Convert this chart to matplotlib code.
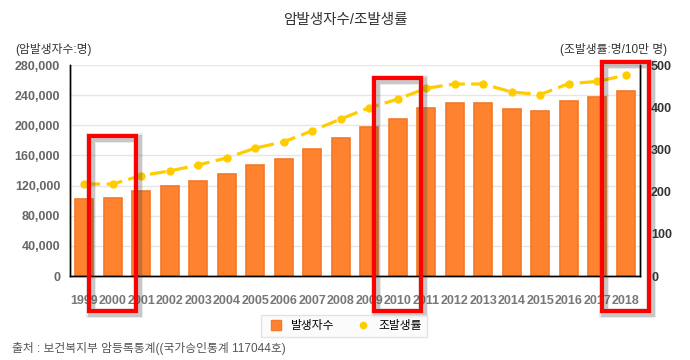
import matplotlib.pyplot as plt
from matplotlib.patches import Rectangle
from matplotlib.lines import Line2D
import matplotlib.transforms as mtransforms
import numpy as np

# data
years = [str(y) for y in range(1999, 2019)]
cases = [101700, 103500, 112300, 119000, 125600, 135000, 146900, 154800, 168100, 182700,
         197300, 208900, 223600, 230200, 230200, 222200, 219600, 232900, 236900, 244900]
rates = [218, 218, 238, 249, 263, 280, 303, 318, 344, 372,
         399, 419, 445, 455, 455, 436, 430, 456, 461, 476]
highlight_years = ["2000", "2010", "2018"]
highlight_tops = [0.664, 0.938, 1.014]

plt.rcParams['font.family'] = ['Liberation Sans', 'Noto Sans CJK KR']

fig = plt.figure(figsize=(6.9, 3.6), dpi=100)
ax = fig.add_axes([0.1014, 0.2333, 0.8261, 0.5861])
ax2 = ax.twinx()

x = np.arange(len(years))
ax.bar(x, cases, width=0.64, color='#FF832F', edgecolor='#F2782A', linewidth=1.2, zorder=2)
ax.set_xlim(-0.5, len(years) - 0.5)
ax.set_ylim(0, 280000)
ax.set_yticks(range(0, 280001, 40000))
ax.set_yticklabels([f"{v:,}" for v in range(0, 280001, 40000)])
ax.grid(axis='y', color='#E6E6E6', linewidth=1, zorder=0)
ax.set_axisbelow(True)
ax.set_xticks(x)
ax.set_xticklabels(years)

ax2.plot(x, rates, color='#FFCC00', linewidth=2.3, dashes=(5, 2),
         marker='o', markersize=6, markeredgewidth=0, zorder=3)
ax2.set_ylim(0, 500)
ax2.set_yticks(range(0, 501, 100))

for a in (ax, ax2):
    a.spines['top'].set_visible(False)
    for s in ('left', 'right', 'bottom'):
        a.spines[s].set_color('black')
        a.spines[s].set_linewidth(1)
    a.tick_params(length=0)

ax.tick_params(axis='y', labelcolor='#666666', labelsize=9, pad=7)
ax.tick_params(axis='x', labelcolor='#777777', labelsize=9, pad=14)
ax2.tick_params(axis='y', labelcolor='#333333', labelsize=9, pad=8)
for lab in ax.get_xticklabels() + ax.get_yticklabels() + ax2.get_yticklabels():
    lab.set_fontweight('bold')

fig.text(0.5, 0.945, "암발생자수/조발생률", ha='center', va='center', fontsize=10.5, color='#333333')
fig.text(0.022, 0.862, "(암발생자수:명)", ha='left', va='center', fontsize=8.5, color='#333333')
fig.text(0.967, 0.862, "(조발생률:명/10만 명)", ha='right', va='center', fontsize=8.5, color='#333333')
fig.text(0.017, 0.033, "출처 : 보건복지부 암등록통계((국가승인통계 117044호)", ha='left', va='center',
         fontsize=8.5, color='#555555')

handles = [Line2D([], [], marker='s', color='none', markerfacecolor='#FF832F', markeredgecolor='#F2782A',
                  markersize=7.5),
           Line2D([], [], marker='o', color='none', markerfacecolor='#FFCC00', markeredgewidth=0,
                  markersize=5.5)]
leg = fig.legend(handles, ["발생자수", "조발생률"], loc='center', bbox_to_anchor=(0.499, 0.094),
                 ncol=2, frameon=True, fontsize=8.5, handletextpad=0.5, columnspacing=1.6,
                 handlelength=1.6, fancybox=False, borderpad=0.45)
leg.get_frame().set_edgecolor('#DDDDDD')
leg.get_frame().set_facecolor('#FAFAFA')
leg.get_frame().set_linewidth(1)

# red highlight boxes with a soft drop shadow
trans = mtransforms.blended_transform_factory(ax.transData, ax.transAxes)
for yr, top in zip(highlight_years, highlight_tops):
    i = years.index(yr)
    for lw, alpha in [(7, 0.12), (5, 0.2)]:
        sh_trans = mtransforms.offset_copy(trans, fig=fig, x=2, y=-2, units='dots')
        ax2.add_patch(Rectangle((i - 0.82, -0.166), 1.64, top + 0.166, transform=sh_trans, fill=False,
                                edgecolor='#444444', linewidth=lw, alpha=alpha, clip_on=False, zorder=9))
    ax2.add_patch(Rectangle((i - 0.82, -0.166), 1.64, top + 0.166, transform=trans, fill=False,
                            edgecolor='#FF0000', linewidth=3, clip_on=False, zorder=10))

fig.savefig('out.png', dpi=100)
